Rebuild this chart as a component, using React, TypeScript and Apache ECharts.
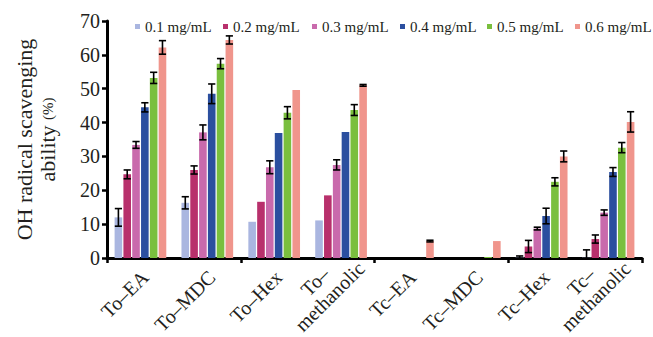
import React, { useEffect, useRef } from 'react';
import * as echarts from 'echarts';

const categories = ['To–EA', 'To–MDC', 'To–Hex', 'To–methanolic', 'Tc–EA', 'Tc–MDC', 'Tc–Hex', 'Tc–methanolic'];
const seriesNames = ['0.1 mg/mL', '0.2 mg/mL', '0.3 mg/mL', '0.4 mg/mL', '0.5 mg/mL', '0.6 mg/mL'];
const colors = ['#aab6e0', '#b8306c', '#c96aac', '#2b4f9f', '#7abf3e', '#f0958c'];

const v01 = [12.0, 16.3, 10.7, 11.1, 0, 0, 0.3, 0.3];
const v02 = [24.7, 26.0, 16.6, 18.5, 0, 0, 3.4, 5.6];
const v03 = [33.4, 37.1, 26.8, 27.5, 0, 0, 8.7, 13.4];
const v04 = [44.5, 48.5, 36.9, 37.2, 0, 0, 12.4, 25.4];
const v05 = [53.2, 57.4, 42.9, 43.7, 0, 0.3, 22.5, 32.6];
const v06 = [62.2, 64.4, 49.6, 51.0, 5.0, 5.0, 30.0, 40.2];

const e01 = [2.6, 1.8, 0, 0, 0, 0, 0.3, 2.1];
const e02 = [1.3, 1.2, 0, 0, 0, 0, 1.8, 1.2];
const e03 = [1.0, 2.2, 1.9, 1.5, 0, 0, 0.4, 0.8];
const e04 = [1.35, 2.9, 0, 0, 0, 0, 2.3, 1.3];
const e05 = [1.65, 1.5, 1.8, 1.6, 0, 0, 1.2, 1.5];
const e06 = [2.0, 1.2, 0, 0.25, 0.25, 0, 1.6, 3.0];

const yTicks = { min: 0, max: 70, interval: 10 };

const values = [v01, v02, v03, v04, v05, v06];
const errors = [e01, e02, e03, e04, e05, e06];

const FONT = "'Liberation Serif', 'DejaVu Serif', serif";
const TXT = '#231f20';
const GRID_LEFT = 107;
const GRID_W = 535;
const GRID_TOP = 21;
const GRID_BOTTOM = 79;
const BAR_W = 7.6;
const BAR_GAP = 0.16;
const LEGEND_LEFTS = [130, 218, 307, 395, 482, 570];

function buildOption() {
  const bars = values.map((vals, i) => ({
    name: seriesNames[i],
    type: 'bar',
    xAxisIndex: 0,
    yAxisIndex: 0,
    barWidth: BAR_W,
    barGap: `${BAR_GAP * 100}%`,
    itemStyle: { color: colors[i] },
    data: vals,
    z: 2,
  }));
  const errs = values.map((vals, i) => ({
    name: 'err' + i,
    type: 'custom',
    xAxisIndex: 0,
    yAxisIndex: 0,
    z: 5,
    data: vals.map((v, k) => [k, v, errors[i][k]]),
    renderItem: (params: any, api: any) => {
      const k = api.value(0);
      const v = api.value(1);
      const e = api.value(2);
      if (!e) return null;
      const off = (i - 2.5) * BAR_W * (1 + BAR_GAP);
      const top = api.coord([k, v + e]);
      const bot = api.coord([k, Math.max(0, v - e)]);
      const x = top[0] + off;
      const hw = 3.6;
      const st = { stroke: '#000', lineWidth: 1.6 };
      return {
        type: 'group',
        children: [
          { type: 'line', shape: { x1: x, y1: top[1], x2: x, y2: bot[1] }, style: st },
          { type: 'line', shape: { x1: x - hw, y1: top[1], x2: x + hw, y2: top[1] }, style: st },
          { type: 'line', shape: { x1: x - hw, y1: bot[1], x2: x + hw, y2: bot[1] }, style: st },
        ],
      };
    },
  }));

  const singleLabels = categories.map((c) => (c.indexOf('methanolic') >= 0 ? '' : c));
  const multiLabels = categories.map((c) => (c.indexOf('methanolic') >= 0 ? c : ''));

  const hiddenY = (gi: number) => ({
    type: 'value',
    gridIndex: gi,
    min: yTicks.min,
    max: yTicks.max,
    interval: yTicks.interval,
    show: false,
  });

  const legends = seriesNames.map((n, i) => ({
    data: [n],
    left: LEGEND_LEFTS[i],
    top: 14,
    icon: 'rect',
    itemWidth: 5,
    itemHeight: 5,
    textStyle: { fontFamily: FONT, fontSize: 15, color: TXT },
  }));

  return {
    animation: false,
    legend: legends,
    grid: [
      { left: GRID_LEFT, width: GRID_W, top: GRID_TOP, bottom: GRID_BOTTOM },
      { left: GRID_LEFT + 4.5, width: GRID_W, top: GRID_TOP, bottom: GRID_BOTTOM },
      { left: GRID_LEFT + 14, width: GRID_W, top: GRID_TOP, bottom: GRID_BOTTOM },
    ],
    xAxis: [
      {
        type: 'category',
        gridIndex: 0,
        data: categories,
        axisLine: { lineStyle: { color: '#000', width: 3 } },
        axisTick: { show: true, length: 5, lineStyle: { color: '#000', width: 2.5 } },
        axisLabel: { show: false },
      },
      {
        type: 'category',
        gridIndex: 1,
        data: singleLabels,
        axisLine: { show: false },
        axisTick: { show: false },
        axisLabel: {
          interval: 0,
          rotate: 45,
          margin: 25,
          fontFamily: FONT,
          fontSize: 20,
          color: TXT,
        },
      },
      {
        type: 'category',
        gridIndex: 2,
        data: multiLabels,
        axisLine: { show: false },
        axisTick: { show: false },
        axisLabel: {
          interval: 0,
          rotate: 45,
          margin: 14,
          fontFamily: FONT,
          fontSize: 20,
          color: TXT,
          formatter: (v: string) => {
            if (!v) return '';
            const parts = v.split('–');
            return `{c|${parts[0]}–}\n{d|${parts[1]}}`;
          },
          rich: {
            c: { fontFamily: FONT, fontSize: 20, color: TXT, align: 'center', lineHeight: 21 },
            d: { fontFamily: FONT, fontSize: 20, color: TXT, lineHeight: 21 },
          },
        },
      },
    ],
    yAxis: [
      {
        type: 'value',
        gridIndex: 0,
        min: yTicks.min,
        max: yTicks.max,
        interval: yTicks.interval,
        name: '{a|OH radical scavenging}\n{a|ability }{b|(%)}',
        nameLocation: 'middle',
        nameRotate: 90,
        nameGap: 48,
        nameTextStyle: {
          rich: {
            a: { fontFamily: FONT, fontSize: 22, color: TXT, lineHeight: 23 },
            b: { fontFamily: FONT, fontSize: 15, color: TXT, lineHeight: 23 },
          },
        },
        axisLine: { show: true, lineStyle: { color: '#000', width: 3 } },
        axisTick: { show: true, length: 5, lineStyle: { color: '#000', width: 2.5 } },
        axisLabel: { margin: 7, fontFamily: FONT, fontSize: 20, color: TXT },
        splitLine: { show: false },
      },
      hiddenY(1),
      hiddenY(2),
    ],
    series: [...bars, ...errs],
  };
}

export default function App() {
  const ref = useRef<HTMLDivElement>(null);
  useEffect(() => {
    if (!ref.current) return;
    const chart = echarts.init(ref.current, null, { renderer: 'svg' });
    chart.setOption(buildOption() as any);
    return () => chart.dispose();
  }, []);
  return (
    <div
      ref={ref}
      style={{ position: 'fixed', left: 0, top: 0, width: 653, height: 337, background: '#fff' }}
    />
  );
}
